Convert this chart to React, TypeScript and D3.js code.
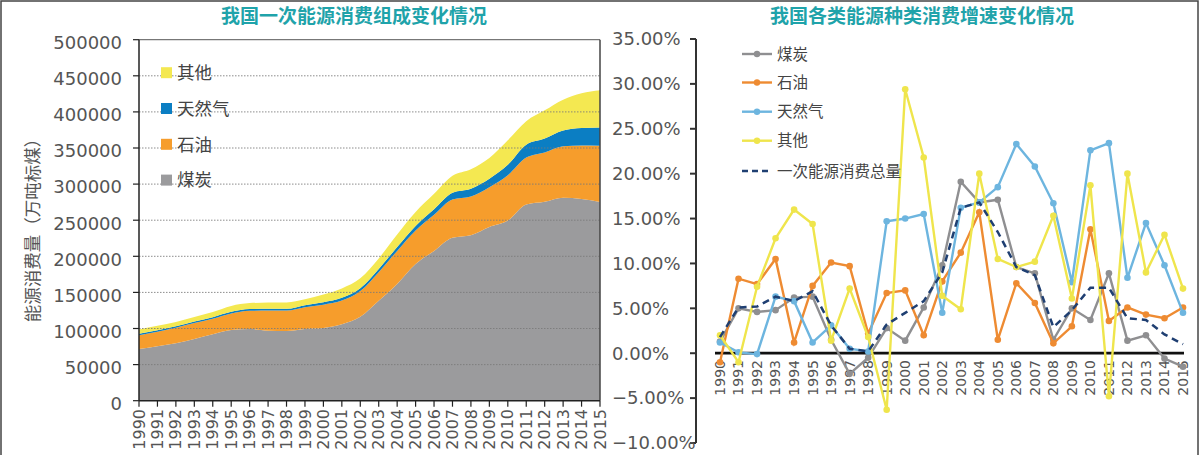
import React from 'react';
import * as d3 from 'd3';

const years = [1990, 1991, 1992, 1993, 1994, 1995, 1996, 1997, 1998, 1999, 2000, 2001, 2002, 2003, 2004, 2005, 2006, 2007, 2008, 2009, 2010, 2011, 2012, 2013, 2014, 2015];

// 能源消费量（万吨标煤）
const coal = [71500, 75500, 79500, 85500, 92053, 97857, 99366, 97039, 96554, 99242, 100670, 105772, 116160, 138352, 161657, 189231, 207402, 225795, 229237, 240666, 249568, 271704, 275465, 281000, 279329, 275200];
const oil = [19000, 20000, 21500, 22000, 21356, 22956, 25281, 27725, 28326, 30222, 32332, 32976, 35611, 39614, 45826, 46524, 50132, 52945, 53542, 55125, 62753, 65023, 68363, 71292, 74090, 77830];
const gas = [2073, 2076, 2074, 2204, 2332, 2361, 2433, 2446, 2451, 2811, 3233, 3733, 3900, 4533, 5296, 6273, 7735, 9343, 10901, 11764, 14426, 17804, 19303, 22096, 24271, 25370];
const other = [6200, 6300, 6100, 6300, 6996, 8002, 8112, 8698, 8852, 8294, 10728, 13066, 13905, 14584, 17501, 19341, 21199, 23358, 26931, 28571, 33901, 32512, 39007, 42525, 48116, 51600];

// 增速 (%)
const coalGrowth = [1.3, 5.0, 4.6, 4.8, 6.2, 6.3, 1.5, -2.3, -0.5, 2.8, 1.4, 5.1, 9.8, 19.1, 16.8, 17.1, 9.6, 8.9, 1.5, 5.0, 3.7, 8.9, 1.4, 2.0, -0.6, -1.5];
const oilGrowth = [-1.0, 8.3, 7.7, 10.5, 1.2, 7.5, 10.1, 9.7, 2.2, 6.7, 7.0, 2.0, 8.0, 11.2, 15.7, 1.5, 7.8, 5.6, 1.1, 3.0, 13.8, 3.6, 5.1, 4.3, 3.9, 5.1];
const gasGrowth = [1.2, 0.1, -0.1, 6.3, 5.8, 1.2, 3.1, 0.5, 0.2, 14.7, 15.0, 15.5, 4.5, 16.2, 16.8, 18.5, 23.3, 20.8, 16.7, 7.9, 22.6, 23.4, 8.4, 14.5, 9.8, 4.5];
const otherGrowth = [2.0, -1.0, 7.4, 12.8, 16.0, 14.4, 1.4, 7.2, 1.8, -6.3, 29.4, 21.8, 6.4, 4.9, 20.0, 10.5, 9.6, 10.2, 15.3, 6.1, 18.7, -4.8, 20.0, 9.0, 13.2, 7.2];
const totalGrowth = [1.8, 5.1, 5.2, 6.3, 5.8, 6.9, 3.1, 0.5, 0.2, 3.2, 4.5, 5.8, 9.0, 16.2, 16.8, 13.5, 9.6, 8.7, 2.9, 4.8, 7.3, 7.3, 3.9, 3.7, 2.1, 1.0];

const leftTicks = [0, 50000, 100000, 150000, 200000, 250000, 300000, 350000, 400000, 450000, 500000];
const pctTicks = [-10, -5, 0, 5, 10, 15, 20, 25, 30, 35];

const leftTitle = '我国一次能源消费组成变化情况';
const rightTitle = '我国各类能源种类消费增速变化情况';
const yTitle = '能源消费量（万吨标煤）';

const areaKeys = ['coal', 'oil', 'gas', 'other'];
const areaColors: Record<string, string> = { coal: '#9b9b9d', oil: '#f69d2c', gas: '#0b7ec3', other: '#f4e851' };
const areaLegend = [
  { key: 'other', label: '其他' },
  { key: 'gas', label: '天然气' },
  { key: 'oil', label: '石油' },
  { key: 'coal', label: '煤炭' },
];

const lineSeries = [
  { label: '煤炭', values: coalGrowth, color: '#8f8f91', dashed: false },
  { label: '石油', values: oilGrowth, color: '#ee8b32', dashed: false },
  { label: '天然气', values: gasGrowth, color: '#6db5df', dashed: false },
  { label: '其他', values: otherGrowth, color: '#efe54c', dashed: false },
  { label: '一次能源消费总量', values: totalGrowth, color: '#1f3f72', dashed: true },
];

const NUM_FONT = '"DejaVu Sans", sans-serif';
const CJK_FONT = '"Noto Sans CJK SC", sans-serif';
const TEXT_COLOR = '#555';
const TITLE_COLOR = '#1fa3aa';

export default function App() {
  const W = 1202;
  const H = 455;

  // left chart
  const xL = d3.scaleLinear().domain([1990, 2015]).range([139, 600]);
  const yL = d3.scaleLinear().domain([0, 500000]).range([400.7, 39.7]);
  const rows = years.map((y, i) => ({ year: y, coal: coal[i], oil: oil[i], gas: gas[i], other: other[i] }));
  const stacked = d3.stack<any>().keys(areaKeys)(rows as any);
  const area = d3
    .area<any>()
    .x((d: any) => xL(d.data.year))
    .y0((d: any) => yL(d[0]))
    .y1((d: any) => yL(d[1]))
    .curve(d3.curveMonotoneX);

  // right chart
  const xR = d3.scaleLinear().domain([1990, 2015]).range([720, 1183]);
  const yR = d3.scaleLinear().domain([-10, 35]).range([443, 39]);
  const line = d3
    .line<number>()
    .x((_, i) => xR(years[i]))
    .y((d) => yR(d));

  return (
    <svg width={W} height={H} style={{ position: 'absolute', left: 0, top: 0, background: '#fff' }}>
      <rect x={0} y={0} width={W} height={H} fill="#fff" />
      {/* outer frame */}
      <rect x={1} y={1} width={1197} height={480} fill="none" stroke="#444" strokeWidth={1.5} />

      {/* titles */}
      <text x={354} y={23} textAnchor="middle" fontFamily={CJK_FONT} fontWeight={700} fontSize={19} fill={TITLE_COLOR}>
        {leftTitle}
      </text>
      <text x={922} y={23} textAnchor="middle" fontFamily={CJK_FONT} fontWeight={700} fontSize={19} fill={TITLE_COLOR}>
        {rightTitle}
      </text>

      {/* ===== left chart ===== */}
      {stacked.map((s: any) => (
        <path key={s.key} d={area(s) || ''} fill={areaColors[s.key]} />
      ))}
      {leftTicks.slice(1, -1).map((t) => (
        <line key={t} x1={139} x2={600} y1={yL(t)} y2={yL(t)} stroke="#7a7a7a" strokeWidth={1} strokeDasharray="1.5 1.5" opacity={0.85} />
      ))}
      {/* frame */}
      <line x1={139} x2={600} y1={yL(500000)} y2={yL(500000)} stroke="#777" strokeWidth={1.2} />
      <line x1={600} x2={600} y1={yL(500000)} y2={yL(0)} stroke="#444" strokeWidth={1.5} />
      <line x1={139} x2={139} y1={yL(500000)} y2={yL(0)} stroke="#222" strokeWidth={1.5} />
      <line x1={139} x2={600} y1={yL(0)} y2={yL(0)} stroke="#222" strokeWidth={1.5} />
      {leftTicks.map((t) => (
        <g key={t}>
          <line x1={133} x2={139} y1={yL(t)} y2={yL(t)} stroke="#222" strokeWidth={1.2} />
          <text x={122} y={yL(t) + 3} dy="0.35em" textAnchor="end" fontFamily={NUM_FONT} fontSize={18} fill={TEXT_COLOR}>
            {t}
          </text>
        </g>
      ))}
      {years.map((y) => (
        <g key={y}>
          <line x1={xL(y)} x2={xL(y)} y1={yL(0)} y2={yL(0) + 6} stroke="#222" strokeWidth={1.2} />
          <text
            transform={`translate(${xL(y)},${409}) rotate(-90)`}
            dy="0.35em"
            textAnchor="end"
            fontFamily={NUM_FONT}
            fontSize={16}
            fill={TEXT_COLOR}
          >
            {y}
          </text>
        </g>
      ))}
      <text
        transform={`translate(${33},${226}) rotate(-90)`}
        dy="0.35em"
        textAnchor="middle"
        fontFamily={CJK_FONT}
        fontSize={17.5}
        fill={TEXT_COLOR}
      >
        {yTitle}
      </text>
      {areaLegend.map((l, i) => {
        const cy = 72.7 + i * 35.8;
        return (
          <g key={l.key}>
            <rect x={161} y={cy - 5.5} width={11} height={11} fill={areaColors[l.key]} />
            <text x={177} y={cy} dy="0.36em" fontFamily={CJK_FONT} fontSize={17.5} fill="#444">
              {l.label}
            </text>
          </g>
        );
      })}

      {/* ===== right chart ===== */}
      <line x1={696} x2={696} y1={yR(35)} y2={yR(-10)} stroke="#333" strokeWidth={2} />
      {pctTicks.map((t) => (
        <g key={t}>
          <line x1={690} x2={696} y1={yR(t)} y2={yR(t)} stroke="#333" strokeWidth={2} />
          <text x={612} y={yR(t)} dy="0.35em" textAnchor="start" fontFamily={NUM_FONT} fontSize={18} fill={TEXT_COLOR}>
            {(t < 0 ? '\u2212' : '') + Math.abs(t).toFixed(2) + '%'}
          </text>
        </g>
      ))}
      {years.map((y) => (
        <text
          key={y}
          transform={`translate(${xR(y)},${360}) rotate(-90)`}
          dy="0.35em"
          textAnchor="end"
          fontFamily={NUM_FONT}
          fontSize={14}
          fill={TEXT_COLOR}
        >
          {y}
        </text>
      ))}
      <line x1={715} x2={1184} y1={yR(0)} y2={yR(0)} stroke="#111" strokeWidth={2.8} />
      {lineSeries.map((s) => (
        <g key={s.label}>
          <path
            d={line(s.values) || ''}
            fill="none"
            stroke={s.color}
            strokeWidth={s.dashed ? 2.5 : 2.4}
            strokeDasharray={s.dashed ? '7 5' : undefined}
          />
          {!s.dashed &&
            s.values.map((v, i) => <circle key={i} cx={xR(years[i])} cy={yR(v)} r={3.3} fill={s.color} />)}
        </g>
      ))}
      {lineSeries.map((s, i) => {
        const cy = [54, 82.5, 111.7, 140.7, 171][i];
        return (
          <g key={'lg' + s.label}>
            <line
              x1={742}
              x2={772}
              y1={cy}
              y2={cy}
              stroke={s.color}
              strokeWidth={2.4}
              strokeDasharray={s.dashed ? '6 4' : undefined}
            />
            {!s.dashed && <circle cx={757} cy={cy} r={3.2} fill={s.color} />}
            <text x={777} y={cy} dy="0.36em" fontFamily={CJK_FONT} fontSize={15.5} fill="#444">
              {s.label}
            </text>
          </g>
        );
      })}
    </svg>
  );
}
